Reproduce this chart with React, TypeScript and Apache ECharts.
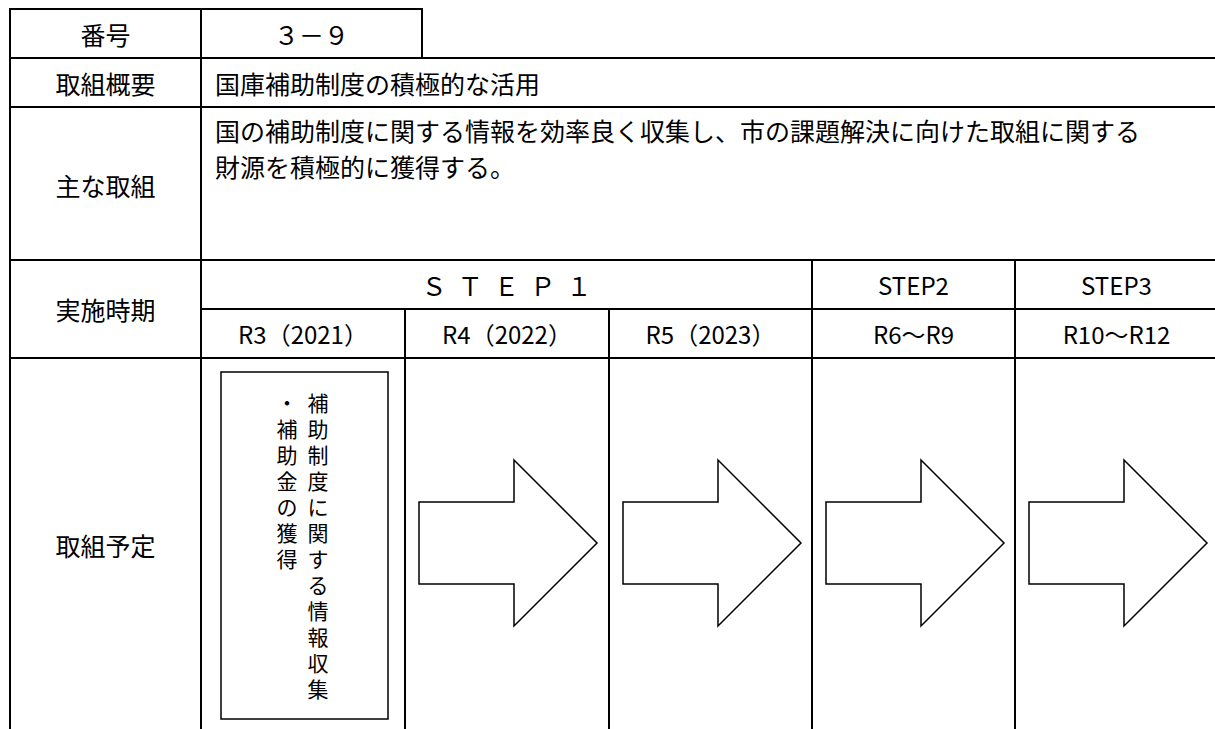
import React, { useEffect, useRef } from "react";
import * as echarts from "echarts";

// ---- content ----
const rowLabels = ["番号", "取組概要", "主な取組", "実施時期", "取組予定"];
const numberValue = "３－９";
const summaryText = "国庫補助制度の積極的な活用";
const mainTextLines = [
  "国の補助制度に関する情報を効率良く収集し、市の課題解決に向けた取組に関する",
  "財源を積極的に獲得する。",
];
const stepLabels = ["Ｓ  Ｔ  Ｅ  Ｐ  １", "STEP2", "STEP3"];
const periodLabels = ["R3（2021）", "R4（2022）", "R5（2023）", "R6～R9", "R10～R12"];
const planColumns = ["補助制度に関する情報収集", "・補助金の獲得"];

// ---- layout ----
const W = 1215;
const H = 729;
const colX = [10, 201, 405, 609, 812, 1015, 1218];
const rowY = [9, 58, 107, 260, 309, 358, 729];
const numberCellRight = 422;

const JP = "'Noto Sans CJK JP', 'Noto Sans CJK SC', sans-serif";

function line(x1: number, y1: number, x2: number, y2: number, w = 2) {
  return {
    type: "line",
    shape: { x1, y1, x2, y2 },
    style: { stroke: "#000", lineWidth: w },
    silent: true,
  };
}

function text(t: string, x: number, y: number, opts: any = {}) {
  return {
    type: "text",
    x,
    y,
    style: {
      text: t,
      fill: "#000",
      fontSize: opts.fontSize ?? 25,
      fontFamily: opts.fontFamily ?? JP,
      align: opts.align ?? "center",
      verticalAlign: opts.verticalAlign ?? "middle",
      lineHeight: opts.lineHeight,
    },
    silent: true,
  };
}

export default function App() {
  const ref = useRef<HTMLDivElement>(null);

  useEffect(() => {
    if (!ref.current) return;
    const chart = echarts.init(ref.current, undefined, { renderer: "svg", width: W, height: H });

    const els: any[] = [];
    els.push({ type: "rect", shape: { x: 0, y: 0, width: W, height: H }, style: { fill: "#fff" }, silent: true });

    // horizontal lines
    els.push(line(colX[0] - 1, rowY[0], numberCellRight + 1, rowY[0]));
    els.push(line(colX[0] - 1, rowY[1], W, rowY[1]));
    els.push(line(colX[0] - 1, rowY[2], W, rowY[2]));
    els.push(line(colX[0] - 1, rowY[3], W, rowY[3]));
    els.push(line(colX[1], rowY[4], W, rowY[4]));
    els.push(line(colX[0] - 1, rowY[5], W, rowY[5]));
    // vertical lines
    els.push(line(colX[0], rowY[0], colX[0], H));
    els.push(line(colX[1], rowY[0], colX[1], H));
    els.push(line(numberCellRight, rowY[0], numberCellRight, rowY[1]));
    els.push(line(colX[2], rowY[4], colX[2], H));
    els.push(line(colX[3], rowY[4], colX[3], H));
    els.push(line(colX[4], rowY[3], colX[4], H));
    els.push(line(colX[5], rowY[3], colX[5], H));

    // row labels
    const labelX = (colX[0] + colX[1]) / 2;
    const labelY = [33.5, 82.5, 185, 309, 545];
    rowLabels.forEach((l, i) => els.push(text(l, labelX, labelY[i])));

    // number value
    els.push(text(numberValue, (colX[1] + numberCellRight) / 2, 33.5));
    // summary
    els.push(text(summaryText, 215, 82.5, { align: "left" }));
    // main lines
    const mainY = [130, 166];
    mainTextLines.forEach((l, i) => els.push(text(l, 215, mainY[i], { align: "left" })));

    // steps
    els.push(text(stepLabels[0], (colX[1] + colX[4]) / 2, 284.5));
    els.push(text(stepLabels[1], (colX[4] + colX[5]) / 2, 284.5, { fontSize: 24 }));
    els.push(text(stepLabels[2], (colX[5] + colX[6]) / 2, 284.5, { fontSize: 24 }));
    // periods
    periodLabels.forEach((p, i) => {
      els.push(text(p, (colX[i + 1] + colX[i + 2]) / 2, 333.5, { fontSize: 24 }));
    });

    // plan box in R3 column
    els.push({
      type: "rect",
      shape: { x: 221, y: 372, width: 167, height: 347 },
      style: { fill: "none", stroke: "#000", lineWidth: 1.5 },
      silent: true,
    });
    const colCenters = [318, 287];
    planColumns.forEach((c, i) => {
      els.push(
        text(c.split("").join("\n"), colCenters[i], 389, {
          fontSize: 21,
          lineHeight: 26,
          verticalAlign: "top",
        })
      );
    });

    // arrows in columns R4, R5, STEP2, STEP3
    const cy = 543;
    for (let k = 2; k <= 5; k++) {
      const x0 = colX[k];
      const left = x0 + 14;
      const neck = x0 + 109;
      const tip = x0 + 192;
      els.push({
        type: "polygon",
        shape: {
          points: [
            [left, cy - 41],
            [neck, cy - 41],
            [neck, cy - 83],
            [tip, cy],
            [neck, cy + 83],
            [neck, cy + 41],
            [left, cy + 41],
          ],
        },
        style: { fill: "#fff", stroke: "#000", lineWidth: 1.5 },
        silent: true,
      });
    }

    chart.setOption({ animation: false, graphic: { elements: els } });
    return () => chart.dispose();
  }, []);

  return (
    <div
      ref={ref}
      style={{ position: "fixed", left: 0, top: 0, width: W, height: H, background: "#fff" }}
    />
  );
}
